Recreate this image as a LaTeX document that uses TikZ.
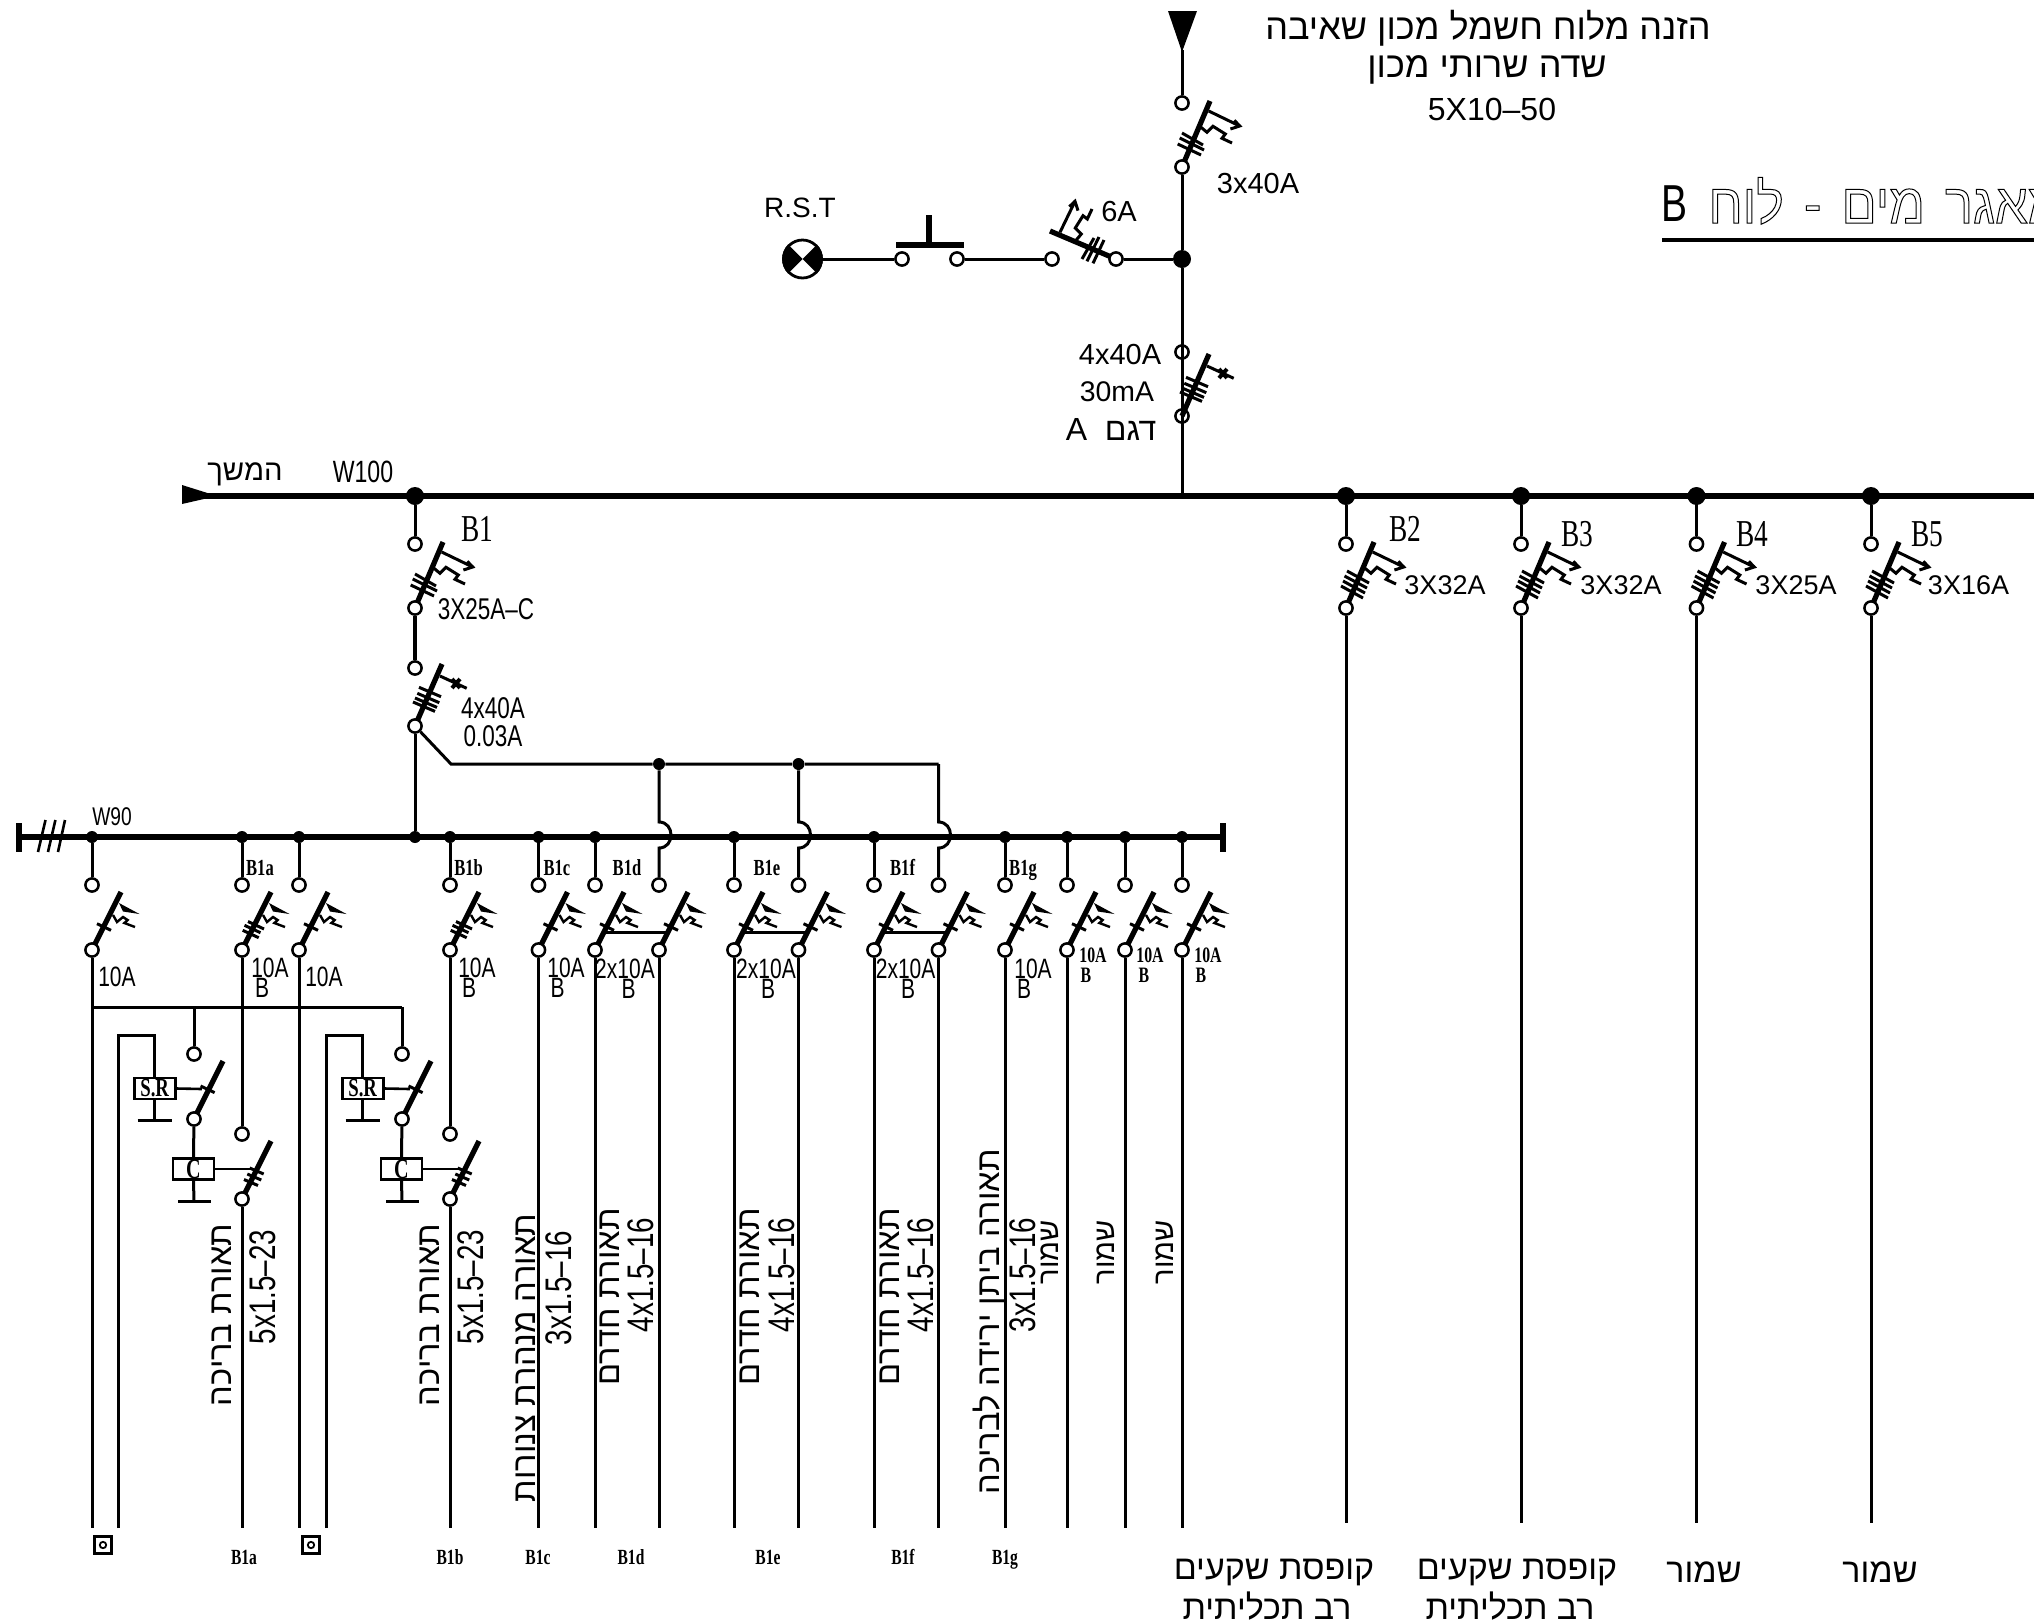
\documentclass[tikz,border=0pt]{standalone}
\usepackage{fontspec}
\setmainfont{Liberation Sans}
\TeXXeTstate=1
\newfontfamily\hebf[Script=Hebrew]{Liberation Sans}
\newfontfamily\titlef[Script=Hebrew,FakeStretch=.93]{Liberation Sans}
\newfontfamily\narf[FakeStretch=.75]{Liberation Sans}
\newfontfamily\slabf[FakeStretch=.72]{Liberation Serif}
\newcommand{\hebt}[1]{{\hebf\beginR #1\endR}}
\newcommand{\fs}[1]{\fontsize{#1}{#1}\selectfont}
\tikzset{
  x=0.5pt,y=-0.5pt,
  wire/.style={line width=1.5pt},
  thinw/.style={line width=1.3pt},
  bar/.style={line width=2.6pt},
  bus/.style={line width=3.3pt},
  lw90/.style={line width=2.8pt},
  term/.style={circle,draw,line width=1.25pt,fill=white,minimum size=6.6pt,inner sep=0},
  termo/.style={circle,draw,line width=1.25pt,minimum size=6.6pt,inner sep=0},
  jbig/.style={circle,fill,minimum size=9pt,inner sep=0},
  jsmall/.style={circle,fill,minimum size=6pt,inner sep=0},
  tx/.style={inner sep=0,font=\fs{19}},
  he/.style={inner sep=0,font=\fs{16.3}},
  hetop/.style={inner sep=0,font=\fs{18}},
  hebot/.style={inner sep=0,font=\fs{17}},
  sm/.style={inner sep=0,font=\narf\fs{14}},
  nr/.style={inner sep=0,font=\fs{13.5}},
  vn/.style={inner sep=0,rotate=90,font=\narf\fs{18.5}},
  sl/.style={inner sep=0,font=\slabf\bfseries\fs{11}},
  slb/.style={inner sep=0,font=\slabf\fs{19}},
  slw/.style={inner sep=0,font=\narf\fs{15}},
  blbl/.style={inner sep=0,text height=7.5pt,text depth=2.5pt,font=\slabf\bfseries\fs{11.5}},
  blbllow/.style={inner sep=0,text height=7pt,text depth=2.5pt,font=\slabf\bfseries\fs{10.8}},
  coil/.style={draw,line width=1.4pt,inner sep=0,minimum width=20.5pt,minimum height=10.5pt,fill=white},
  mainbrk/.pic={
    \draw[bar] (0,0)--(28,-66);
    \draw[wire] (26.7,-56)--(57.7,-41);
    \draw[wire] (52.3,-46.7)--(57.7,-41)--(48.4,-38);
    \draw[wire] (19,-39.7)--(25,-34.7)--(31,-40.7)--(43.3,-33)--(40,-28.7)--(50,-24);
    \draw[wire] (0,-34)--(21,-22) (-2.3,-29)--(22,-17) (-4.3,-23)--(19,-12);
  },
  mainbrkf/.pic={
    \draw[bar] (0,0)--(28,-66);
    \draw[wire] (26.7,-56)--(57.7,-41);
    \draw[wire] (52.3,-46.7)--(57.7,-41)--(48.4,-38);
    \draw[wire] (19,-39.7)--(25,-34.7)--(31,-40.7)--(43.3,-33)--(40,-28.7)--(50,-24);
    \draw[wire] (1,-37)--(23,-25) (-1.5,-32)--(21,-20) (-3,-27)--(19,-15) (-5,-22)--(17,-10);
  },
  rcdbrk/.pic={
    \draw[bar] (0,0)--(27,-62);
    \draw[wire] (25,-50)--(51.7,-37.7);
    \draw[line width=2pt] (37,-47)--(45,-38) (37,-38)--(45,-47);
    \draw[wire] (4,-38.7)--(26,-29.3) (2.3,-32.7)--(24.3,-23.3) (0,-28)--(22,-18.6) (-2,-24)--(20,-14.6);
  },
  mcbcore/.pic={
    \draw[bar] (0,0)--(29,-58);
    \fill (27,-47)--(47.5,-36)--(31,-38.5)--cycle;
    \draw[line width=1.2pt] (21,-35)--(25,-28)--(31,-33)--(35.6,-30)--(32.4,-27)--(43,-23);
  },
  mcbone/.pic={
    \pic {mcbcore};
    \draw[wire] (5,-26.3)--(19,-19.7);
  },
  mcbthree/.pic={
    \pic {mcbcore};
    \draw[wire] (6,-28.5)--(22,-21) (2.5,-24.7)--(18.5,-17.3) (0.7,-19.7)--(16.7,-12.3);
  },
  ctone/.pic={
    \draw[bar] (0,0)--(29,-58);
    \draw[wire] (6.6,-33)--(20.6,-26.4);
  },
  ctthree/.pic={
    \draw[bar] (0,0)--(29,-58);
    \draw[wire] (7.7,-31)--(21.7,-25) (5.3,-25)--(19.3,-19) (2,-19.5)--(16,-13.5);
  }
}
\begin{document}
\begin{tikzpicture}
\useasboundingbox (0,0) rectangle (2034,1623);
\clip (0,0) rectangle (2034,1623);

% ---- main bus W100
\coordinate (busR) at (2034,496);
\fill (182,485)--(217,496)--(182,504)--cycle;
\draw[bus] (200,496)--(busR);
\node[he,font=\fs{14.6}] (mshk) at (245,474) {\hebt{המשך}};
\node[nr,font=\narf\fs{15.4}] (w100) at (363,472) {W100};

% ---- symbols first (under the terminals)
\pic at (1182,167) {mainbrk};
\pic[rotate=90] at (1116,259) {mainbrk};
\pic at (1182,416) {rcdbrk};
\pic at (415,608) {mainbrk};
\pic at (415,726) {rcdbrk};
\foreach \x in {1346,1521,1696.5,1871} \pic at (\x,608) {mainbrkf};

% ---- feeder from top
\fill (1168,11)--(1197,11)--(1182,52)--cycle;
\coordinate (feedtip) at (1182,50);
\node[term] (t1) at (1182,103) {};
\node[term] (t2) at (1182,167) {};
\node[jbig] (jtop) at (1182,259) {};
\coordinate (jbus) at (1182,496);
\draw[wire] (feedtip) -- (t1);
\draw[wire] (t2) -- (jtop) -- (jbus);
\node[termo] (t3) at (1182,352) {};
\node[termo] (t4) at (1182,416) {};

% ---- lamp branch
\node[term] (c4) at (1116,259) {};
\node[term] (c3) at (1052,259) {};
\node[term] (c2) at (957,259) {};
\node[term] (c1) at (902,259) {};
\node[circle,draw,line width=1.4pt,fill=white,minimum size=19pt,inner sep=0] (lamp) at (802.5,259) {};
\fill (lamp.center) -- (lamp.north east) to[out=-45,in=45] (lamp.south east) -- cycle;
\fill (lamp.center) -- (lamp.north west) to[out=-135,in=135] (lamp.south west) -- cycle;
\draw[wire] (jtop) -- (c4);
\draw[wire] (c3) -- (c2);
\draw[wire] (c1) -- (lamp);
\coordinate (pbL) at (896,245);
\coordinate (pbR) at (964,245);
\coordinate (pbM) at (929,245);
\coordinate (pbT) at (929,215);
\draw[bar] (pbL) -- (pbR);
\draw[bar] (pbM) -- (pbT);

% ---- labels top
\node[nr,font=\fs{14}] (lrst) at (800,208) {R.S.T};
\node[nr,font=\fs{14.5}] (l6a) at (1119,212) {6A};
\node[nr,font=\fs{14.5}] (l340) at (1258,184) {3x40A};
\node[nr,font=\fs{14.5}] (l440) at (1120,355) {4x40A};
\node[nr,font=\fs{14.2}] (l30) at (1117,392) {30mA};
\node[he,font=\fs{16}] (ldg) at (1111,429) {\hebf\beginR דגם\ \ A\endR};
\node[hetop] (top1) at (1488,28) {\hebt{הזנה מלוח חשמל מכון שאיבה}};
\node[hetop] (top2) at (1487,70) {\hebt{שדה שרותי מכון}};
\node[tx,font=\fs{16}] (top3) at (1492,109) {5X10--50};

% ---- title
\node[inner sep=0,anchor=center,font=\narf\fs{26}] (titleB) at (1674,204) {B};
\node[inner sep=0,anchor=base west,font=\titlef\fs{28}] (titleH) at (1708,223) {\spaceskip=.36em\special{pdf:code 1 Tr 0.5 w}\beginR מאגר מים - לוח\endR\special{pdf:code 0 Tr}};
\coordinate (ruleL) at (1662,240);
\coordinate (ruleR) at (2034,240);
\draw[line width=2pt] (ruleL) -- (ruleR);

% ---- branch breakers on W100
\foreach \n/\x in {2/1346,3/1521,4/1696.5,5/1871}{
  \node[jbig] (jb\n) at (\x,496) {};
  \node[term] (ub\n) at (\x,544) {};
  \node[term] (lb\n) at (\x,608) {};
  \coordinate (bb\n) at (\x,1523);
  \draw[wire] (jb\n) -- (ub\n);
  \draw[wire] (lb\n) -- (bb\n);
}
\node[slb] at (1405,529) {B2};
\node[slb] at (1577,534) {B3};
\node[slb] at (1752,534) {B4};
\node[slb] at (1927,534) {B5};
\node[nr] at (1445,585) {3X32A};
\node[nr] at (1621,585) {3X32A};
\node[nr] at (1796,585) {3X25A};
\node[nr] at (1968.5,585) {3X16A};

% ---- B1 chain
\node[jbig] (jb1) at (415,496) {};
\node[term] (b1u) at (415,544) {};
\node[term] (b1l) at (415,608) {};
\node[term] (r1u) at (415,668) {};
\node[term] (r1l) at (415,726) {};
\draw[wire] (jb1) -- (b1u);
\draw[line width=1.8pt] (b1l) -- (r1u);
\node[slb] at (477,529) {B1};
\node[nr,font=\narf\fs{15}] at (486,609) {3X25A–C};
\node[slw] at (493,708) {4x40A};
\node[slw] at (493,736) {0.03A};

% ---- W90 bus
\coordinate (w90L) at (19,837);
\coordinate (w90R) at (1223,837);
\draw[lw90] (w90L) -- (w90R);
\draw[line width=2.8pt] (19,823) -- (19,852);
\draw[line width=2.8pt] (1223,823) -- (1223,852);
\draw[thinw] (38,852)--(45.5,820) (48,852)--(55.4,820) (58,852)--(65,820);
\node[slw,font=\narf\fs{12.8}] at (112,817) {W90};
\node[jsmall] (jw0) at (415,837) {};
\draw[wire] (r1l) -- (jw0);

% ---- feeder to hops
\coordinate (hc) at (451,764);
\node[jsmall] (jh1) at (659,764) {};
\node[jsmall] (jh2) at (798.5,764) {};
\coordinate (jh3) at (938.5,764);
\draw[wire] (r1l) -- (hc) -- (jh1) -- (jh2) -- (jh3);

% ---- outgoing mcbs
\foreach \x/\s in {92/mcbone,299/mcbone,538.5/mcbone,595/mcbone,659/mcbone,734/mcbone,798.5/mcbone,874/mcbone,938.5/mcbone,1005/mcbone,1067/mcbone,1125/mcbone,1182/mcbone,242/mcbthree,450/mcbthree}
  \pic at (\x,950) {\s};

\foreach \n/\x in {a/92,b/242,c/299,d/450,e/538.5,f/595,g/659,h/734,i/798.5,j/874,k/938.5,m/1005,n/1067,p/1125,q/1182}{
  \node[term] (u\n) at (\x,885) {};
  \node[term] (l\n) at (\x,950) {};
  \coordinate (bot\n) at (\x,1528);
}
\foreach \n/\x in {a/92,b/242,c/299,d/450,e/538.5,f/595,h/734,j/874,m/1005,n/1067,p/1125,q/1182}{
  \node[jsmall] (jw\n) at (\x,837) {};
  \draw[wire] (jw\n) -- (u\n);
}
% hops
\foreach \n/\j/\x in {g/jh1/659,i/jh2/798.5,k/jh3/938.5}{
  \coordinate (hs\n) at (\x,822);
  \coordinate (he\n) at (\x,848);
  \draw[wire] (\j) -- (hs\n) .. controls (\x+16,822) and (\x+16,848) .. (he\n) -- (u\n);
}
% straight outputs
\foreach \n in {a,c,e,f,g,h,i,j,k,m,n,p,q}
  \draw[wire] (l\n) -- (bot\n);
% pairs coupling
\draw[wire] (605.5,932) -- (666,932);
\draw[wire] (745,932) -- (807,932);
\draw[wire] (885,932) -- (947,932);

% ---- stair lighting groups
\coordinate (ctrlL) at (92,1007);
\coordinate (ctrlR) at (402,1007);
\draw[wire] (ctrlL) -- (ctrlR);
\foreach \o in {0,208}{
\begin{scope}[shift={(\o,0)}]
  \pic at (194,1119) {ctone};
  \pic at (242,1199) {ctthree};
  \node[term] (s1\o) at (194,1054) {};
  \node[term] (s2\o) at (194,1119) {};
  \node[term] (s3\o) at (242,1134) {};
  \node[term] (s4\o) at (242,1199) {};
  \node[coil,font=\slabf\bfseries\fs{13}] (sr\o) at (154.7,1088.5) {S.R};
  \node[coil,font=\slabf\bfseries\fs{14}] (cc\o) at (193.5,1169) {C};
  \coordinate (ret1\o) at (118,1528);
  \coordinate (ret2\o) at (118,1035);
  \coordinate (ret3\o) at (sr\o.north |- ret2\o);
  \draw[wire] (ret1\o) -- (ret2\o) -- (ret3\o) -- (sr\o.north);
  \coordinate (g1\o) at (154.7,1120);
  \coordinate (g2\o) at (194,1201);
  \draw[wire] (sr\o.south) -- (g1\o);
  \draw[wire] (137.6,1120) -- (172,1120);
  \draw[wire] (cc\o.south) -- (g2\o);
  \draw[wire] (178,1201) -- (211,1201);
  \coordinate (k1\o) at (202,1089);
  \coordinate (k2\o) at (250,1169);
  \draw[thinw] (sr\o.east) -- (k1\o);
  \draw[thinw] (cc\o.east) -- (k2\o);
  \draw[wire] (s2\o) -- (cc\o.north);
  \coordinate (ct\o) at (194,1007);
  \draw[wire] (ct\o) -- (s1\o);
  \coordinate (out\o) at (242,1528);
  \draw[wire] (s4\o) -- (out\o);
\end{scope}
}
\draw[wire] (lb) -- (s30);
\draw[wire] (ld) -- (s3208);

% ---- current labels
\foreach \x/\y/\t in {117/977/10A,324/977/10A,270/968/10A,477/968/10A,566/968/10A,1033/969/10A,625/969/2x10A,766/969/2x10A,905.6/969/2x10A}
  \node[sm] at (\x,\y) {\t};
\foreach \x/\y in {262/988,469/988,557.5/988,628.5/989,768/989,908/989,1024/989}
  \node[sm] at (\x,\y) {B};
\foreach \x/\bx in {1093/1086,1150/1144,1208/1201}{
  \node[sl] at (\x,955) {10A};
  \node[sl] at (\bx,975) {B};
}
% ---- upper branch names
\foreach \x/\t in {260/B1a,468.6/B1b,557/B1c,627/B1d,767/B1e,902.6/B1f,1023/B1g}
  \node[blbl] at (\x,870) {\t};
% ---- lower branch names
\foreach \x/\t in {244/B1a,450/B1b,538/B1c,631/B1d,768/B1e,903/B1f,1005/B1g}
  \node[blbllow] at (\x,1560) {\t};
% ---- small terminals
\foreach \x in {103,311}{
  \node[draw,line width=1.4pt,minimum size=8.5pt,inner sep=0] at (\x,1545) {};
  \node[draw,circle,line width=.9pt,minimum size=3.2pt,inner sep=0] at (\x,1545) {};
}
% ---- vertical texts
\node[he,rotate=90] at (222,1315) {\hebt{תאורת בריכה}};
\node[vn] at (263,1287) {5x1.5–23};
\node[he,rotate=90] at (430,1315) {\hebt{תאורת בריכה}};
\node[vn] at (471,1287) {5x1.5–23};
\node[he,rotate=90] at (526,1358) {\hebt{תאורה מנהרת צנורות}};
\node[vn] at (559,1288) {3x1.5–16};
\node[he,rotate=90] at (610,1297) {\hebt{תאורת חדרם}};
\node[vn] at (641,1275) {4x1.5–16};
\node[he,rotate=90] at (750,1297) {\hebt{תאורת חדרם}};
\node[vn] at (782,1275) {4x1.5–16};
\node[he,rotate=90] at (890,1297) {\hebt{תאורת חדרם}};
\node[vn] at (921,1275) {4x1.5–16};
\node[he,rotate=90] at (989,1322) {\hebt{תאורה ביתן ירידה לבריכה}};
\node[vn] at (1023,1275) {3x1.5–16};
\node[he,rotate=90,font=\fs{14.5}] at (1050,1252) {\hebt{שמור}};
\node[he,rotate=90,font=\fs{14.5}] at (1106,1252) {\hebt{שמור}};
\node[he,rotate=90,font=\fs{14.5}] at (1165,1252) {\hebt{שמור}};
% ---- bottom right texts
\node[hebot] at (1274,1572) {\hebt{קופסת שקעים}};
\node[hebot] at (1267,1606) {\hebt{רב תכליתית}};
\node[hebot] at (1517,1572) {\hebt{קופסת שקעים}};
\node[hebot] at (1510,1606) {\hebt{רב תכליתית}};
\node[hebot] at (1704,1572) {\hebt{שמור}};
\node[hebot] at (1880,1572) {\hebt{שמור}};
\end{tikzpicture}
\end{document}
